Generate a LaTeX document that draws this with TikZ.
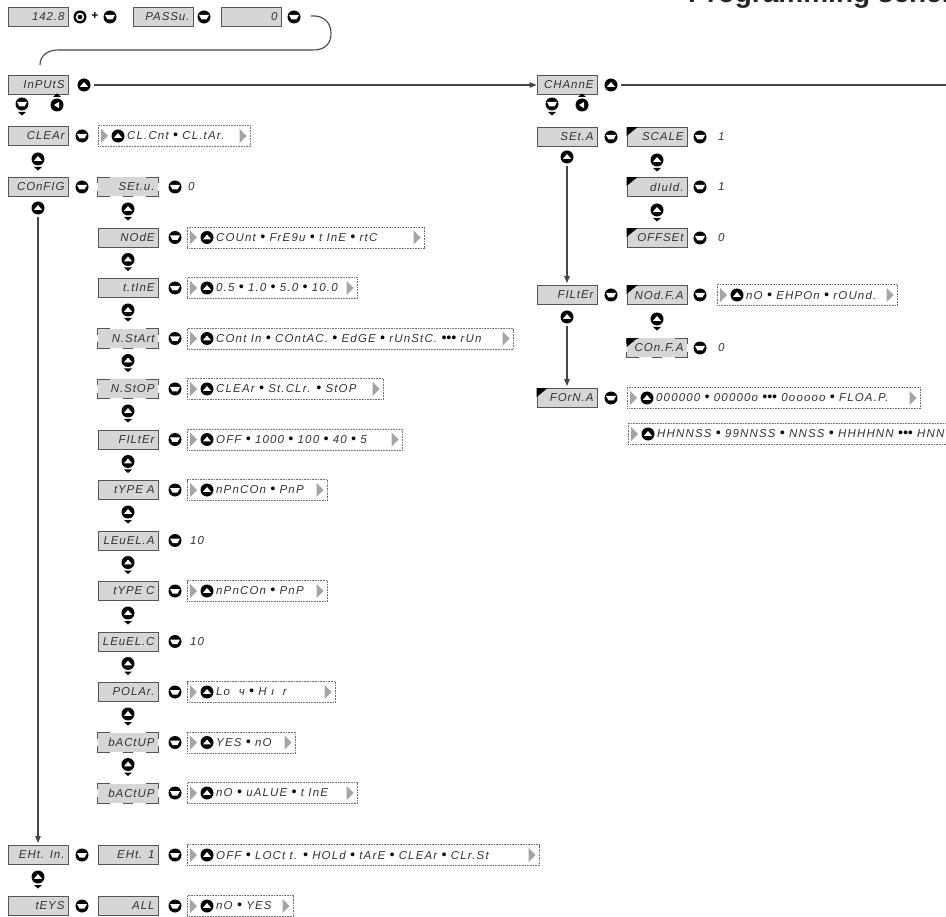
\documentclass[tikz,border=0pt]{standalone}
\usepackage{fontspec}
\setmainfont{Liberation Sans}
\newfontfamily\segfont[LetterSpace=8]{Liberation Sans}
\newfontfamily\optfont[LetterSpace=10]{Liberation Sans}
\usetikzlibrary{arrows.meta}

\definecolor{dispfill}{RGB}{214,214,214}
\definecolor{displine}{RGB}{85,85,85}
\definecolor{segtext}{RGB}{50,50,50}
\definecolor{trigrey}{RGB}{165,165,165}
\definecolor{dotline}{RGB}{110,110,110}
\definecolor{linecol}{RGB}{70,70,70}

\newcommand\bu{{\color{black}\fontsize{14}{12}\selectfont •}}

\tikzset{
  disp/.style={rectangle, draw=displine, line width=0.9pt, fill=dispfill,
    minimum width=60pt, minimum height=19pt, text width=53pt, align=right,
    inner xsep=3.5pt, inner ysep=0pt,
    font=\segfont\itshape\fontsize{11.5}{12}\selectfont, text=segtext},
  cornerline/.style={draw=displine, line width=0.9pt},
  btn/.style={circle, fill=black, minimum size=13pt, inner sep=0pt, outer sep=0.5pt},
  upbtn/.style={btn, path picture={\fill[white] ([xshift=-4pt,yshift=-1.8pt]path picture bounding box.center) -- ++(8pt,0pt) -- ++(-4pt,4.8pt) -- cycle;}},
  dnbtn/.style={btn, path picture={\fill[white] ([xshift=-5pt,yshift=2pt]path picture bounding box.center) -- ++(10pt,0pt) -- ++(-2.5pt,-4.5pt) -- ++(-5pt,0pt) -- cycle;}},
  backbtn/.style={btn, path picture={\fill[white] ([xshift=-3pt]path picture bounding box.center) -- ++(5pt,3.2pt) -- ++(0pt,-6.4pt) -- cycle;}},
  entbtn/.style={btn, path picture={\fill[white] (path picture bounding box.center) circle (4.2pt); \fill[black] (path picture bounding box.center) circle (2.3pt);}},
  plussign/.style={font=\bfseries\fontsize{12}{12}\selectfont, inner sep=0pt},
  optbox/.style={rectangle, draw=dotline, line width=0.6pt, dash pattern=on 0.7pt off 0.9pt,
    minimum height=21pt, inner sep=0pt, anchor=west},
  opttext/.style={anchor=west, inner sep=0pt,
    font=\optfont\itshape\fontsize{11.5}{12}\selectfont, text=segtext},
  valtext/.style={anchor=west, inner sep=0pt,
    font=\optfont\itshape\fontsize{11.5}{12}\selectfont, text=segtext},
  conn/.style={draw=linecol, line width=1.1pt},
  arr/.style={-{Triangle[length=7pt,width=5.5pt]}},
  titletext/.style={inner sep=0pt, font=\bfseries\fontsize{28}{30}\selectfont, text=black!85},
}

\newcommand\navud[3]{%
  \node[upbtn] (#1) at (#2,#3) {};
  \fill ([yshift=-8pt]#1.center) ++(-4pt,0pt) -- ++(8pt,0pt) -- ++(-4pt,-3.5pt) -- cycle;}
\newcommand\navdd[3]{%
  \node[dnbtn] (#1) at (#2,#3) {};
  \fill ([yshift=-8pt]#1.center) ++(-4pt,0pt) -- ++(8pt,0pt) -- ++(-4pt,-3.5pt) -- cycle;}
\newcommand\navback[3]{%
  \node[backbtn] (#1) at (#2,#3) {};
  \fill ([yshift=8pt]#1.center) ++(-4pt,0pt) -- ++(8pt,0pt) -- ++(-4pt,3.5pt) -- cycle;}
\newcommand\optrow[5]{%
  \node[optbox, minimum width=#4pt] (#1) at (#2,#3) {};
  \fill[trigrey] ([xshift=3pt]#1.west) ++(0pt,7pt) -- ++(7pt,-7pt) -- ++(-7pt,-7pt) -- cycle;
  \node[upbtn] (#1u) at ([xshift=20pt]#1.west) {};
  \node[opttext] (#1t) at ([xshift=29pt]#1.west) {#5};
  \fill[trigrey] ([xshift=-11pt]#1.east) ++(0pt,7pt) -- ++(7pt,-7pt) -- ++(-7pt,-7pt) -- cycle;}
\newcommand\dashcorners[1]{%
  \draw[cornerline] ([yshift=-6pt]#1.north west) |- ([xshift=12pt]#1.north west);
  \draw[cornerline] ([yshift=-6pt]#1.north east) |- ([xshift=-12pt]#1.north east);
  \draw[cornerline] ([yshift=6pt]#1.south west) |- ([xshift=12pt]#1.south west);
  \draw[cornerline] ([yshift=6pt]#1.south east) |- ([xshift=-12pt]#1.south east);
  \draw[cornerline] ([xshift=-5pt]#1.south) -- ([xshift=5pt]#1.south);}
\newcommand\dashdisp[4]{%
  \node[disp, draw=none] (#1) at (#2,#3) {#4};
  \dashcorners{#1}}
\newcommand\blacktri[1]{%
  \fill[black] (#1.north west) -- ([xshift=11pt]#1.north west) -- ([yshift=-9pt]#1.north west) -- cycle;}
\newcommand\tridisp[4]{%
  \node[disp] (#1) at (#2,#3) {#4};
  \blacktri{#1}}
\newcommand\tridashdisp[4]{%
  \node[disp, draw=none] (#1) at (#2,#3) {#4};
  \dashcorners{#1}\blacktri{#1}}

\begin{document}
\begin{tikzpicture}[x=1pt,y=-1pt]
\useasboundingbox (0,0) rectangle (946,917);
\clip (0,0) rectangle (946,917);

% title (cut by the page edge)
\node[titletext, anchor=base west] (title) at (688,3) {Programming scheme};

% ---- top row
\node[disp] (d1428) at (38,17) {142.8};
\node[entbtn] (ent) at (80,17) {};
\node[plussign] (plus) at (95,16) {+};
\node[dnbtn] (dnA) at (110,17) {};
\node[disp] (pass) at (163,17) {PASSu.};
\node[dnbtn] (dnB) at (204,17) {};
\node[disp] (pzero) at (251,17) {0};
\node[dnbtn] (dnC) at (294,17) {};
\coordinate (cstart) at (311,16);
\coordinate (cend) at (40,65);
\draw[conn] (cstart) .. controls (324,15) and (331,23) .. (331,33)
  .. controls (331,44) and (325,50) .. (313,50) -- (58,50)
  .. controls (47,50) and (40,56) .. (cend);

% ---- InPUtS / CHAnnE row
\node[disp] (inputs) at (38,85) {InPUtS};
\node[upbtn] (inup) at (84,85) {};
\node[disp] (chan) at (567,85) {CHAnnE};
\node[upbtn] (chup) at (611,85) {};
\coordinate (rend) at (950,85);
\draw[conn,arr,shorten <=3pt] (inup) -- (chan);
\draw[conn,shorten <=3pt] (chup) -- (rend);

\navdd{nvL}{22}{104}
\navback{nbL}{57}{105}
\navdd{nvR}{552}{104}
\navback{nbR}{582}{105}

% ---- left column
\node[disp] (clear) at (38,136) {CLEAr};
\node[dnbtn] (cleardn) at (82,136) {};
\optrow{oclr}{98}{136}{152}{CL.Cnt \bu{} CL.tAr.}
\navud{nv2}{38}{159}

\node[disp] (config) at (38,187) {COnFIG};
\node[dnbtn] (configdn) at (82,187) {};
\node[upbtn] (cfgup) at (38,208) {};

% sub rows
\dashdisp{setu}{128}{187}{SEt.u.}
\node[dnbtn] (setudn) at (175,187) {};
\node[valtext] (setuv) at (188,187) {0};
\navud{ns1}{128}{209}

\node[disp] (mode) at (128,237.5) {NOdE};
\node[dnbtn] (modedn) at (175,237.5) {};
\optrow{omode}{187}{237.5}{237}{COUnt \bu{} FrE9u \bu{} t InE \bu{} rtC}
\navud{ns2}{128}{259.5}

\node[disp] (ttime) at (128,288) {t.tInE};
\node[dnbtn] (ttimedn) at (175,288) {};
\optrow{ottime}{187}{288}{170}{0.5 \bu{} 1.0 \bu{} 5.0 \bu{} 10.0}
\navud{ns3}{128}{310}

\dashdisp{nstart}{128}{338.5}{N.StArt}
\node[dnbtn] (nstartdn) at (175,338.5) {};
\optrow{onstart}{187}{338.5}{326}{COnt In \bu{} COntAC. \bu{} EdGE \bu{} rUnStC. \bu\bu\bu{} rUn}
\navud{ns4}{128}{360.5}

\dashdisp{nstop}{128}{389}{N.StOP}
\node[dnbtn] (nstopdn) at (175,389) {};
\optrow{onstop}{187}{389}{196}{CLEAr \bu{} St.CLr. \bu{} StOP}
\navud{ns5}{128}{411}

\node[disp] (filt) at (128,439.5) {FILtEr};
\node[dnbtn] (filtdn) at (175,439.5) {};
\optrow{ofilt}{187}{439.5}{215}{OFF \bu{} 1000 \bu{} 100 \bu{} 40 \bu{} 5}
\navud{ns6}{128}{461.5}

\node[disp] (typea) at (128,490) {tYPE A};
\node[dnbtn] (typeadn) at (175,490) {};
\optrow{otypea}{187}{490}{140}{nPnCOn \bu{} PnP}
\navud{ns7}{128}{512}

\node[disp] (leva) at (128,540.5) {LEuEL.A};
\node[dnbtn] (levadn) at (175,540.5) {};
\node[valtext] (levav) at (190,540.5) {10};
\navud{ns8}{128}{562.5}

\node[disp] (typec) at (128,591) {tYPE C};
\node[dnbtn] (typecdn) at (175,591) {};
\optrow{otypec}{187}{591}{140}{nPnCOn \bu{} PnP}
\navud{ns9}{128}{613}

\node[disp] (levc) at (128,641.5) {LEuEL.C};
\node[dnbtn] (levcdn) at (175,641.5) {};
\node[valtext] (levcv) at (190,641.5) {10};
\navud{ns10}{128}{663.5}

\node[disp] (polar) at (128,692) {POLAr.};
\node[dnbtn] (polardn) at (175,692) {};
\optrow{opolar}{187}{692}{148}{Lo \ ч \bu{} H ı \ r}
\navud{ns11}{128}{714}

\dashdisp{backa}{128}{742.5}{bACtUP}
\node[dnbtn] (backadn) at (175,742.5) {};
\optrow{obacka}{187}{742.5}{108}{YES \bu{} nO}
\navud{ns12}{128}{764.5}

\dashdisp{backb}{128}{793}{bACtUP}
\node[dnbtn] (backbdn) at (175,793) {};
\optrow{obackb}{187}{793}{170}{nO \bu{} uALUE \bu{} t InE}

% ---- EHt. In. and tEYS
\node[disp] (ext) at (38,855) {EHt. In.};
\node[dnbtn] (extdn) at (82,855) {};
\node[disp] (ext1) at (128,855) {EHt. 1};
\node[dnbtn] (ext1dn) at (175,855) {};
\optrow{oext}{187}{855}{352}{OFF \bu{} LOCt t. \bu{} HOLd \bu{} tArE \bu{} CLEAr \bu{} CLr.St}
\navud{nv3}{38}{877}

\node[disp] (keys) at (38,906) {tEYS};
\node[dnbtn] (keysdn) at (82,906) {};
\node[disp] (all) at (128,906) {ALL};
\node[dnbtn] (alldn) at (175,906) {};
\optrow{oall}{187}{906}{106}{nO \bu{} YES}

\draw[conn,arr,shorten <=2pt,shorten >=2pt] (cfgup) -- (ext);

% ---- right column
\node[disp] (seta) at (567,137) {SEt.A};
\node[dnbtn] (setadn) at (611,137) {};
\tridisp{scale}{657}{137}{SCALE}
\node[dnbtn] (scaledn) at (700,137) {};
\node[valtext] (scalev) at (718,137) {1};
\node[upbtn] (setaup) at (567,157) {};
\navud{nr2}{657}{160}

\tridisp{divid}{657}{187}{dIuId.}
\node[dnbtn] (dividdn) at (700,187) {};
\node[valtext] (dividv) at (718,187) {1};
\navud{nr3}{657}{210}

\tridisp{offs}{657}{238}{OFFSEt}
\node[dnbtn] (offsdn) at (700,238) {};
\node[valtext] (offsv) at (718,238) {0};

\node[disp] (filr) at (567,295) {FILtEr};
\node[dnbtn] (filrdn) at (611,295) {};
\tridisp{modfa}{657}{295}{NOd.F.A}
\node[dnbtn] (modfadn) at (700,295) {};
\optrow{omodfa}{717}{295}{180}{nO \bu{} EHPOn \bu{} rOUnd.}
\node[upbtn] (filrup) at (567,317) {};
\navud{nr4}{657}{319}

\tridashdisp{confa}{657}{348}{COn.F.A}
\node[dnbtn] (confadn) at (700,348) {};
\node[valtext] (confav) at (718,348) {0};

\tridisp{forma}{567}{398}{FOrN.A}
\node[dnbtn] (formadn) at (611,398) {};
\optrow{oforma}{627}{398}{293}{000000 \bu{} 00000o \bu\bu\bu{} 0ooooo \bu{} FLOA.P.}
\optrow{otime}{628}{434}{400}{HHNNSS \bu{} 99NNSS \bu{} NNSS \bu{} HHHHNN \bu\bu\bu{} HNNSS}

\draw[conn,arr,shorten <=2pt,shorten >=2pt] (setaup) -- (filr);
\draw[conn,arr,shorten <=2pt,shorten >=2pt] (filrup) -- (forma);
\end{tikzpicture}
\end{document}
